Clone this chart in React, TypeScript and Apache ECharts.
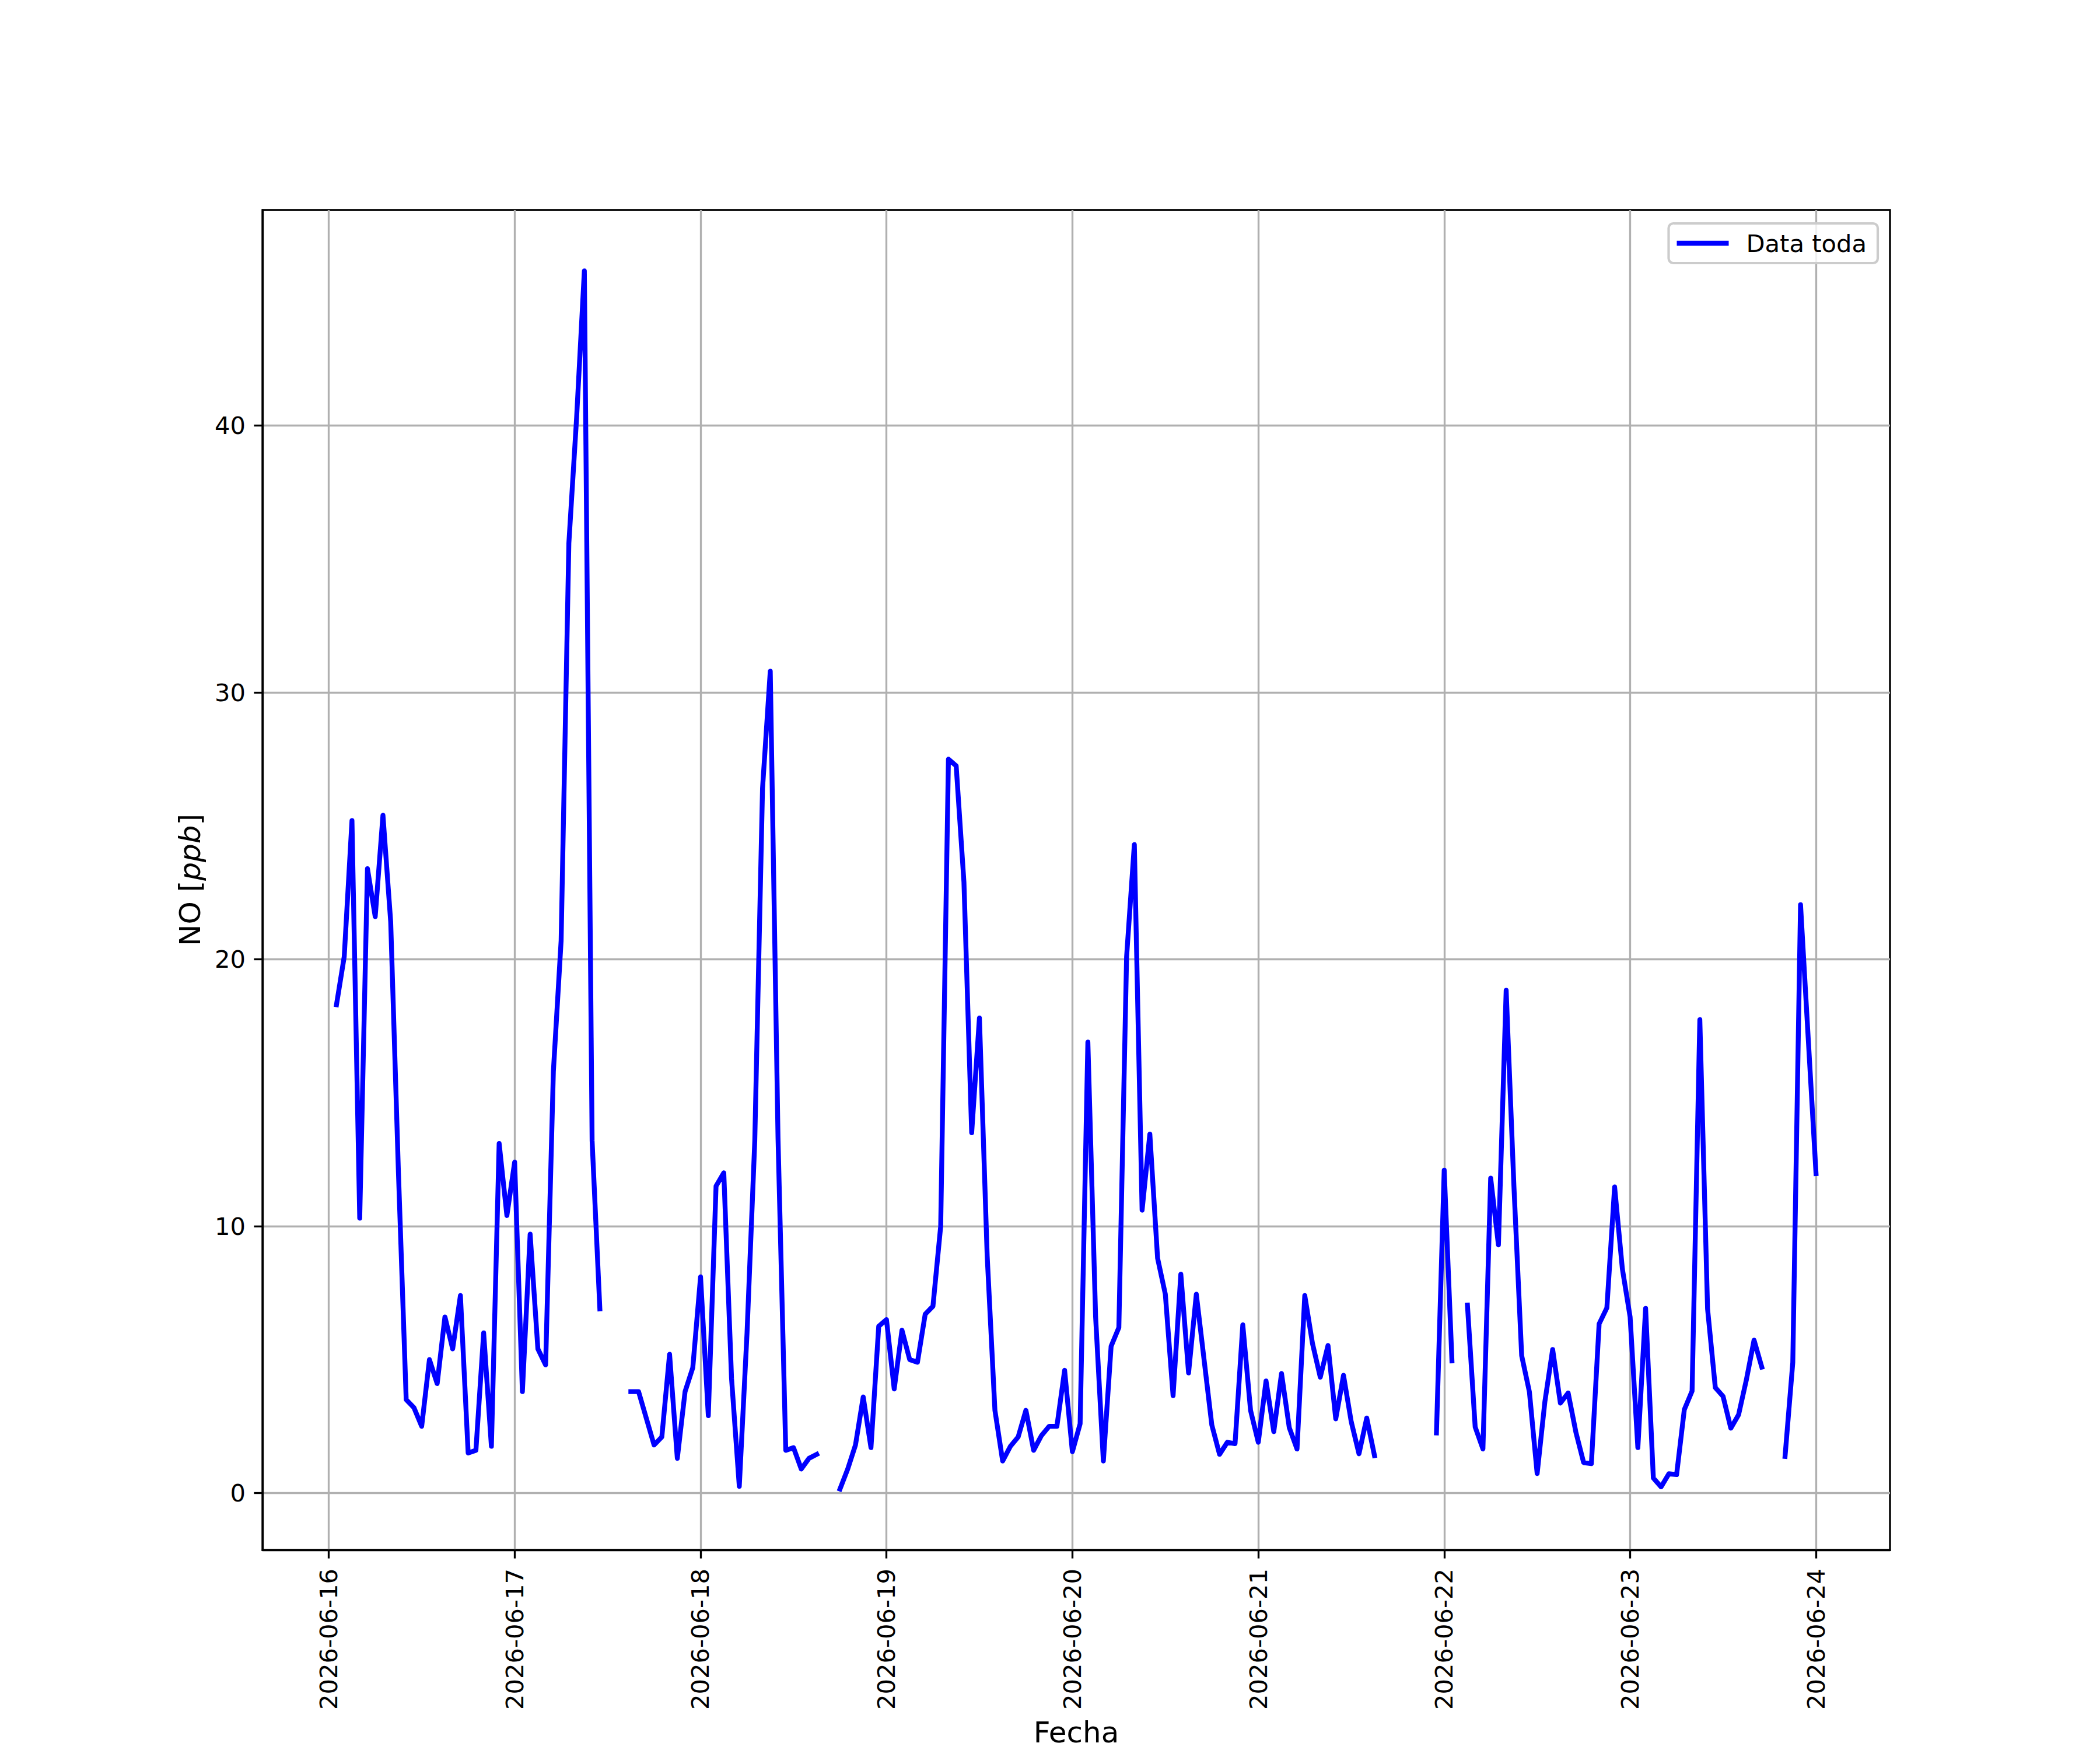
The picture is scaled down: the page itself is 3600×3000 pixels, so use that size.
import React, { useEffect, useRef } from "react";
import * as echarts from "echarts";

// Hourly NO samples, first sample 2026-06-16 01:00 (UTC), null = missing
const firstSample = "2026-06-16T01:00:00Z";

const day16 = [18.3, 20.1, 25.2, 10.3, 23.4, 21.6, 25.4, 21.4, 12.0, 3.5, 3.2, 2.5, 5.0, 4.1, 6.6, 5.4, 7.4, 1.5, 1.6, 6.0, 1.75, 13.1, 10.4];
const day17 = [12.4, 3.8, 9.7, 5.4, 4.8, 15.8, 20.7, 35.6, 40.3, 45.8, 13.2, 6.9, null, null, null, 3.8, 3.8, 2.8, 1.8, 2.1, 5.2, 1.3, 3.8, 4.7];
const day18 = [8.1, 2.9, 11.5, 12.0, 4.3, 0.25, 6.0, 13.2, 26.4, 30.8, 13.3, 1.6, 1.7, 0.9, 1.3, 1.45, null, null, 0.15, 0.9, 1.8, 3.6, 1.7, 6.25];
const day19 = [6.5, 3.9, 6.1, 5.0, 4.9, 6.7, 7.0, 10.0, 27.5, 27.25, 22.9, 13.5, 17.8, 8.9, 3.1, 1.2, 1.75, 2.1, 3.1, 1.6, 2.15, 2.5, 2.5, 4.6];
const day20 = [1.55, 2.6, 16.9, 6.6, 1.2, 5.5, 6.2, 20.1, 24.3, 10.6, 13.45, 8.8, 7.45, 3.65, 8.2, 4.5, 7.45, 5.0, 2.55, 1.45, 1.9, 1.85, 6.3, 3.1];
const day21 = [1.9, 4.2, 2.3, 4.48, 2.45, 1.65, 7.4, 5.6, 4.34, 5.53, 2.78, 4.41, 2.67, 1.47, 2.81, 1.4, null, null, null, null, null, null, null, 2.25];
const day22 = [12.1, 4.95, null, 7.04, 2.47, 1.65, 11.8, 9.3, 18.84, 11.5, 5.15, 3.79, 0.73, 3.43, 5.38, 3.37, 3.75, 2.28, 1.14, 1.1, 6.34, 6.94, 11.47, 8.4];
const day23 = [6.6, 1.7, 6.92, 0.56, 0.23, 0.72, 0.69, 3.13, 3.82, 17.74, 6.9, 3.95, 3.62, 2.43, 2.93, 4.23, 5.73, 4.72, null, null, 1.37, 4.89, 22.05, 17.0];
const day24 = [11.97];

const noValues: (number | null)[] = [...day16, ...day17, ...day18, ...day19, ...day20, ...day21, ...day22, ...day23, ...day24];

const dayTicks = ["2026-06-16", "2026-06-17", "2026-06-18", "2026-06-19", "2026-06-20", "2026-06-21", "2026-06-22", "2026-06-23", "2026-06-24"];
const yTicks = [0, 10, 20, 30, 40];

const seriesName = "Data toda";
const xTitle = "Fecha";

const FONT = "DejaVu Sans";
const FS = 41.67;
const FS_TITLE = 50;

export default function App() {
  const ref = useRef<HTMLDivElement>(null);

  useEffect(() => {
    document.documentElement.style.overflow = "hidden";
    document.body.style.margin = "0";
    document.body.style.overflow = "hidden";
    if (!ref.current) return;
    const chart = echarts.init(ref.current, undefined, { renderer: "svg", width: 3600, height: 3000 });

    const t0 = Date.parse(firstSample);
    const H = 3600 * 1000;
    const data = noValues.map((v, i) => [t0 + i * H, v]);
    const tFirst = t0;
    const tLast = t0 + (noValues.length - 1) * H;
    const xm = (tLast - tFirst) * 0.05;
    const nums = noValues.filter((v): v is number => v !== null);
    const ymin = Math.min(...nums);
    const ymax = Math.max(...nums);
    const ym = (ymax - ymin) * 0.05;
    const xTickVals = dayTicks.map((d) => Date.parse(d + "T00:00:00Z"));

    const tickLine = { color: "#000", width: 3.33 };
    const gridLine = { color: "#b0b0b0", width: 3.33 };
    const labelStyle = { fontFamily: FONT, fontSize: FS, color: "#000" };
    const titleStyle = { fontFamily: FONT, fontSize: FS_TITLE, color: "#000" };

    chart.setOption({
      animation: false,
      backgroundColor: "#fff",
      grid: {
        left: 450,
        right: 360,
        top: 360,
        bottom: 330,
        containLabel: false,
        show: true,
        borderColor: "#000",
        borderWidth: 3.33,
        backgroundColor: "#fff",
      },
      legend: {
        show: true,
        right: 381,
        top: 383,
        orient: "horizontal",
        padding: [13, 19, 13, 14],
        itemWidth: 89,
        itemHeight: 8.33,
        icon: "rect",
        backgroundColor: "rgba(255,255,255,0.8)",
        borderColor: "#cccccc",
        borderWidth: 4.17,
        borderRadius: 8,
        textStyle: { ...labelStyle, padding: [0, 0, 0, 25] },
        itemStyle: { color: "#0000ff", borderWidth: 0 },
        data: [{ name: seriesName }],
      },
      xAxis: {
        type: "value",
        min: tFirst - xm,
        max: tLast + xm,
        axisLine: { show: true, onZero: false, lineStyle: tickLine },
        axisTick: { show: true, inside: false, length: 14.6, lineStyle: tickLine, customValues: xTickVals },
        axisLabel: {
          ...labelStyle,
          customValues: xTickVals,
          rotate: 90,
          margin: 32,
          formatter: (v: number) => new Date(v).toISOString().slice(0, 10),
        },
        splitLine: { show: true, lineStyle: gridLine },
        name: xTitle,
        nameLocation: "middle",
        nameGap: 288,
        nameTextStyle: { ...titleStyle },
      },
      yAxis: {
        type: "value",
        min: ymin - ym,
        max: ymax + ym,
        axisLine: { show: true, lineStyle: tickLine },
        axisTick: { show: true, inside: false, length: 14.6, lineStyle: tickLine, customValues: yTicks },
        axisLabel: { ...labelStyle, customValues: yTicks, margin: 29, formatter: (v: number) => String(v) },
        splitLine: { show: true, lineStyle: gridLine },
        name: "{n|NO [}{i|ppb}{n|]}",
        nameLocation: "middle",
        nameRotate: 90,
        nameGap: 99,
        nameTextStyle: {
          rich: {
            n: { ...titleStyle },
            i: { ...titleStyle, fontStyle: "italic" },
          },
        },
      },
      series: [
        {
          name: seriesName,
          type: "line",
          data,
          showSymbol: false,
          symbol: "none",
          connectNulls: false,
          clip: true,
          color: "#0000ff",
          lineStyle: { color: "#0000ff", width: 8.33, cap: "square", join: "round" },
        },
      ],
    });

    return () => chart.dispose();
  }, []);

  return (
    <div
      ref={ref}
      style={{ position: "fixed", left: 0, top: 0, width: 3600, height: 3000, background: "#fff" }}
    />
  );
}
